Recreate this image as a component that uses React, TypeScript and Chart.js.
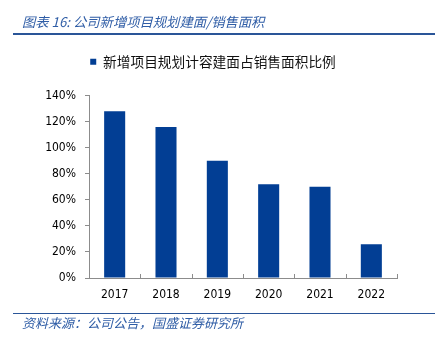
import { useEffect, useRef } from 'react';
import { Chart, registerables } from 'chart.js';

Chart.register(...registerables);

const categories = ['2017', '2018', '2019', '2020', '2021', '2022'];
const ratioValues = [128, 116, 90, 72, 70, 26];
const seriesName = '新增项目规划计容建面占销售面积比例';
const yMin = 0;
const yMax = 140;
const yStep = 20;
const titleText = '图表 16: 公司新增项目规划建面/销售面积';
const sourceText = '资料来源：公司公告，国盛证券研究所';

const BAR = '#023E94';
const AXIS = '#8C8C8C';
const BLUE_TEXT = '#2F5DA6';
const BLUE_LINE = '#2A5598';
const TICK_FONT = { family: '"DejaVu Sans Condensed", "DejaVu Sans", sans-serif', size: 12 };

const innerXTicks = {
  id: 'innerXTicks',
  afterDatasetsDraw(chart: any) {
    const xs = chart.scales.x;
    const bottom = chart.chartArea.bottom;
    const ctx = chart.ctx;
    ctx.save();
    ctx.strokeStyle = AXIS;
    ctx.lineWidth = 1;
    for (let i = 0; i <= categories.length; i++) {
      const px = Math.round(xs.getPixelForValue(i - 0.5)) + 0.5;
      ctx.beginPath();
      ctx.moveTo(px, bottom);
      ctx.lineTo(px, bottom - 4);
      ctx.stroke();
    }
    ctx.restore();
  },
};

const legendGap = {
  id: 'legendGap',
  beforeInit(chart: any) {
    if (!chart.legend) return;
    const orig = chart.legend.fit;
    chart.legend.fit = function () {
      orig.call(this);
      this.height += 17;
    };
  },
};

export default function App() {
  const ref = useRef<HTMLCanvasElement | null>(null);

  useEffect(() => {
    if (!ref.current) return;
    const chart = new Chart(ref.current, {
      type: 'bar',
      data: {
        labels: categories,
        datasets: [
          {
            label: seriesName,
            data: ratioValues,
            backgroundColor: BAR,
            borderWidth: 0,
            barPercentage: 0.41,
            categoryPercentage: 1,
          },
        ],
      },
      options: {
        animation: false,
        responsive: true,
        maintainAspectRatio: false,
        layout: { padding: { left: 29, right: 45, top: 45, bottom: 35 } },
        plugins: {
          legend: {
            display: true,
            position: 'top',
            labels: {
              boxWidth: 6,
              boxHeight: 6,
              padding: 10,
              color: '#111',
              font: { family: '"Noto Sans CJK SC", sans-serif', size: 13.7 },
            },
          },
          tooltip: { enabled: false },
          title: { display: false },
        },
        scales: {
          x: {
            grid: { display: true, drawOnChartArea: false, drawTicks: false, color: AXIS },
            border: { display: true, color: AXIS, width: 1 },
            ticks: { color: '#000', font: TICK_FONT, padding: 10 },
            afterFit: (s: any) => {
              s.height = 30;
            },
          },
          y: {
            min: yMin,
            max: yMax,
            grid: { display: true, drawOnChartArea: false, drawTicks: true, tickLength: 4, color: AXIS },
            border: { display: true, color: AXIS, width: 1 },
            ticks: {
              stepSize: yStep,
              color: '#000',
              font: TICK_FONT,
              padding: 9,
              callback: (v: any) => `${v}%`,
            },
            afterFit: (s: any) => {
              s.width = 60;
            },
          },
        },
      },
      plugins: [innerXTicks, legendGap],
    });
    return () => chart.destroy();
  }, []);

  const cjk = '"Noto Sans CJK SC", sans-serif';

  return (
    <div style={{ position: 'absolute', left: 0, top: 0, width: 442, height: 343, background: '#fff', overflow: 'hidden' }}>
      <div style={{ position: 'absolute', left: 0, top: 0, width: 442, height: 343 }}>
        <canvas ref={ref} />
      </div>
      <div
        style={{
          position: 'absolute',
          left: 22,
          top: 12,
          fontFamily: cjk,
          fontSize: 13.3,
          lineHeight: '20px',
          fontStyle: 'italic',
          color: BLUE_TEXT,
          whiteSpace: 'nowrap',
        }}
      >
        {titleText}
      </div>
      <div style={{ position: 'absolute', left: 13, top: 33.3, width: 422, height: 2, background: BLUE_LINE }} />
      <div style={{ position: 'absolute', left: 13, top: 312.7, width: 422, height: 1.5, background: BLUE_LINE }} />
      <div
        style={{
          position: 'absolute',
          left: 22,
          top: 312.7,
          fontFamily: cjk,
          fontSize: 13,
          lineHeight: '20px',
          fontStyle: 'italic',
          color: BLUE_TEXT,
          whiteSpace: 'nowrap',
        }}
      >
        {sourceText}
      </div>
    </div>
  );
}
